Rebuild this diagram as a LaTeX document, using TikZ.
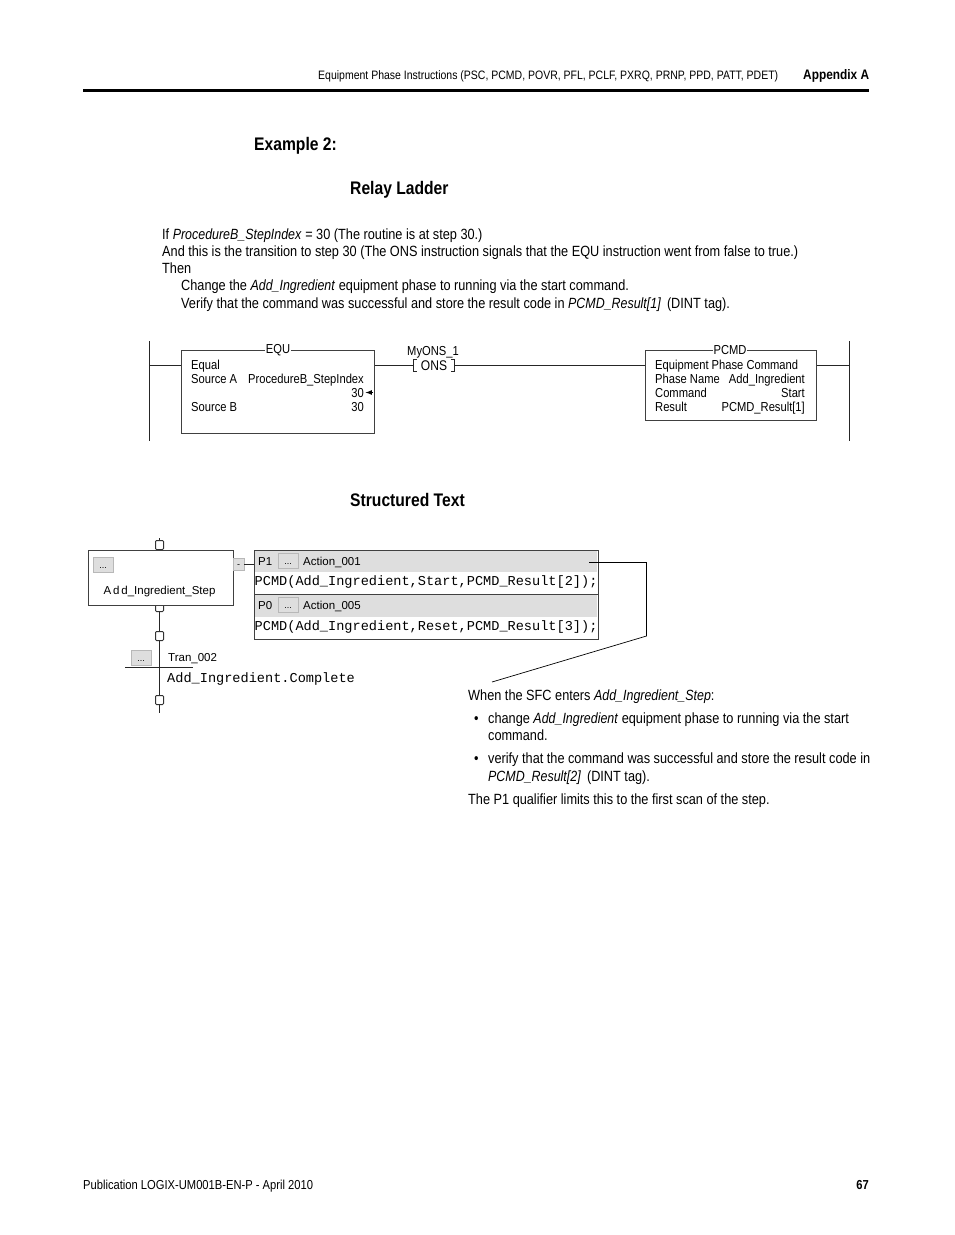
\documentclass[tikz,border=0pt]{standalone}
\usepackage{fontspec}
\setmainfont[FakeStretch=0.86, ItalicFeatures={FakeStretch=0.84}]{Liberation Sans}
\newfontfamily\plcfont{Liberation Sans}
\setmonofont{Liberation Mono}
\usetikzlibrary{positioning}
\tikzset{
  txt/.style={anchor=base west, inner sep=0pt, font=\fontsize{14.8}{16}\selectfont},
  head/.style={anchor=base west, inner sep=0pt, font=\fontsize{18.2}{20}\selectfont\bfseries},
  foot/.style={txt, font=\fontsize{13}{15}\selectfont},
  rung/.style={txt, font=\fontsize{13}{15}\selectfont},
  rungr/.style={rung, anchor=base east},
  sfc/.style={txt, font=\plcfont\fontsize{11.5}{13}\selectfont},
  code/.style={txt, font=\ttfamily\fontsize{13.6}{15}\selectfont},
  plcbox/.style={draw=black!75, line width=1pt, fill=white},
  conn/.style={draw=black!85, line width=1pt},
  btn/.style={fill=black!13, draw=black!28, line width=0.7pt, minimum width=20pt, minimum height=15pt, inner sep=0pt, text height=7pt, text depth=0pt, font=\plcfont\fontsize{9}{9}\selectfont},
  port/.style={draw=black!80, fill=white, line width=1pt, rounded corners=1pt, minimum width=8pt, minimum height=9pt, inner sep=0pt}
}
\begin{document}
\begin{tikzpicture}[x=1pt,y=-1pt]
\useasboundingbox (0,0) rectangle (954,1235);

% Page head
\node[foot, font=\fontsize{12.2}{15}\selectfont] (headline) at (318,79) {Equipment Phase Instructions (PSC, PCMD, POVR, PFL, PCLF, PXRQ, PRNP, PPD, PATT, PDET)};
\node[foot, font=\fontsize{13.8}{15}\selectfont\bfseries] (appendix) at (803,79) {Appendix A};
\draw[line width=2.8pt] (83,90.5) -- (869,90.5);

% Titles
\node[head] (example) at (254,150) {Example 2:};
\node[head] (ladder) at (350,194) {Relay Ladder};
\node[head] (structured) at (350,506) {Structured Text};

% Description
\node[txt] (lineA) at (162,239) {If \textit{ProcedureB\_StepIndex} = 30 (The routine is at step 30.)};
\node[txt] (lineB) at (162,256) {And this is the transition to step 30 (The ONS instruction signals that the EQU instruction went from false to true.)};
\node[txt] (lineC) at (162,273) {Then};
\node[txt] (lineD) at (181,290) {Change the \textit{Add\_Ingredient} equipment phase to running via the start command.};
\node[txt] (lineE) at (181,308) {Verify that the command was successful and store the result code in \textit{PCMD\_Result[1]}\, (DINT tag).};

% Rails
\coordinate (railLtop) at (149.5,341);
\coordinate (railLbot) at (149.5,441);
\coordinate (railRtop) at (849.5,341);
\coordinate (railRbot) at (849.5,441);
\coordinate (railL) at (149.5,365.5);
\coordinate (railR) at (849.5,365.5);
\draw[conn] (railLtop) -- (railLbot);
\draw[conn] (railRtop) -- (railRbot);

% EQU
\node[plcbox, anchor=north west, minimum width=193pt, minimum height=83pt, inner sep=0pt] (equ) at (181,350) {};
\node[fill=white, inner xsep=1pt, inner ysep=0pt, font=\fontsize{13}{13}\selectfont] (equTitle) at (278,350) {EQU};
\node[rung] (equName) at (191,369) {Equal};
\node[rung] (srcA) at (191,383) {Source A};
\node[rungr] (srcAval) at (364,383) {ProcedureB\_StepIndex};
\node[rungr] (srcAnum) at (364,397) {30};
\node[rung] (srcB) at (191,411) {Source B};
\node[rungr] (srcBnum) at (364,411) {30};
\coordinate (liveTip) at (365.5,392.5);
\coordinate (liveEnd) at (373,392.5);
\draw[line width=1.2pt, -latex] (liveEnd) -- (liveTip);

% ONS
\node[rung, anchor=base] (onsTag) at (433,355) {MyONS\_1};
\node[inner sep=1pt, font=\fontsize{14}{14}\selectfont] (ons) at (434,365.5) {ONS};
\draw[conn] (ons.west) ++(-3,-6) -- ++(-3,0) -- ++(0,12) -- ++(3,0);
\draw[conn] (ons.east) ++(3,-6) -- ++(3,0) -- ++(0,12) -- ++(-3,0);

% PCMD
\node[plcbox, anchor=north west, minimum width=171pt, minimum height=70pt, inner sep=0pt] (pcmd) at (645,350) {};
\node[fill=white, inner xsep=1pt, inner ysep=0pt, font=\fontsize{13}{13}\selectfont] (pcmdTitle) at (730,350) {PCMD};
\node[rung] (pcmdName) at (655,369) {Equipment Phase Command};
\node[rung] (phase) at (655,383) {Phase Name};
\node[rungr] (phaseVal) at (805,383) {Add\_Ingredient};
\node[rung] (command) at (655,397) {Command};
\node[rungr] (commandVal) at (805,397) {Start};
\node[rung] (result) at (655,411) {Result};
\node[rungr] (resultVal) at (805,411) {PCMD\_Result[1]};

% Rung
\draw[conn] (railL) -- (railL -| equ.west);
\draw[conn] (railL -| equ.east) -- ([xshift=-6pt]ons.west);
\draw[conn] ([xshift=6pt]ons.east) -- (railL -| pcmd.west);
\draw[conn] (railL -| pcmd.east) -- (railR);

% SFC step
\coordinate (sfcTop) at (159.5,538);
\coordinate (sfcBot) at (159.5,713);
\draw[conn] (sfcTop) -- (sfcBot);
\node[port] (portA) at (159.5,545) {};
\node[port] (portB) at (159.5,607) {};
\node[port] (portC) at (159.5,636) {};
\node[port] (portD) at (159.5,700) {};
\node[plcbox, anchor=north west, minimum width=145pt, minimum height=55pt, inner sep=0pt] (step) at (88,549.5) {};
\node[btn] (stepBtn) at (103,565) {...};
\node[sfc, anchor=base] (stepName) at (159.5,594) {A\,d\,d\_Ingredient\_Step};
\node[btn, minimum width=11pt, minimum height=12pt] (minusBtn) at (238.5,564) {-};

% SFC transition
\coordinate (tranL) at (125,667.5);
\coordinate (tranR) at (192.5,667.5);
\draw[conn] (tranL) -- (tranR);
\node[btn] (tranBtn) at (141,658) {...};
\node[sfc] (tranName) at (168,661) {Tran\_002};
\node[code] (tranCode) at (167,682) {Add\_Ingredient.Complete};

% Actions
\node[plcbox, anchor=north west, minimum width=343.5pt, minimum height=88.5pt, inner sep=0pt] (actions) at (254,550) {};
\fill[black!13] ([shift={(0.5,0.5)}]actions.north west) rectangle (597,571.5);
\fill[black!13] (254.5,595) rectangle (597,616.5);
\draw[draw=black!75, line width=1pt] (actions.west |- 0,594) -- (actions.east |- 0,594);
\node[sfc] (qualA) at (258,565) {P1};
\node[btn] (actBtnA) at (288,561) {...};
\node[sfc] (actA) at (303,565) {Action\_001};
\node[code] (codeA) at (254.5,585) {PCMD(Add\_Ingredient,Start,PCMD\_Result[2]);};
\node[sfc] (qualB) at (258,609) {P0};
\node[btn] (actBtnB) at (288,605) {...};
\node[sfc] (actB) at (303,609) {Action\_005};
\node[code] (codeB) at (254.5,630) {PCMD(Add\_Ingredient,Reset,PCMD\_Result[3]);};
\draw[conn] (minusBtn.east) -- (minusBtn.east -| actions.west);

% Callout
\coordinate (calloutA) at (589,562.5);
\coordinate (calloutB) at (646.5,562.5);
\coordinate (calloutC) at (646.5,636);
\coordinate (calloutD) at (492,682);
\draw[line width=0.7pt] (calloutA) -- (calloutB) -- (calloutC) -- (calloutD);

% Note
\node[txt] (noteA) at (468,700) {When the SFC enters \textit{Add\_Ingredient\_Step}:};
\node[txt] (bulA) at (474,723) {•};
\node[txt] (noteB) at (488,723) {change \textit{Add\_Ingredient} equipment phase to running via the start};
\node[txt] (noteC) at (488,740) {command.};
\node[txt] (bulB) at (474,763) {•};
\node[txt] (noteD) at (488,763) {verify that the command was successful and store the result code in};
\node[txt] (noteE) at (488,781) {\textit{PCMD\_Result[2]}\, (DINT tag).};
\node[txt] (noteF) at (468,804) {The P1 qualifier limits this to the first scan of the step.};

% Page foot
\node[foot] (publication) at (83,1189) {Publication LOGIX-UM001B-EN-P - April 2010};
\node[foot, anchor=base east, font=\fontsize{13}{15}\selectfont\bfseries] (pageNo) at (869,1189) {67};
\end{tikzpicture}
\end{document}
